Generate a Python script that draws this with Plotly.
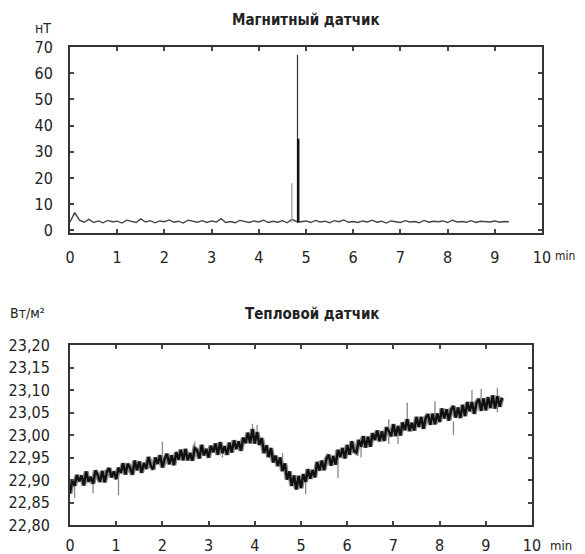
import numpy as np
import plotly.graph_objects as go

# --- magnetic sensor (nT), one sample every 0.1 min ---
mag_dt = 0.1
mag_base = [
    3.2, 6.8, 3.9, 3.1, 4.2, 3.0, 3.6, 2.9, 3.8, 3.3,
    3.5, 2.8, 3.9, 3.4, 3.0, 4.4, 3.2, 3.7, 2.9, 3.6,
    3.3, 4.0, 3.1, 3.5, 2.8, 3.9, 3.4, 3.1, 3.7, 3.0,
    3.6, 3.2, 4.5, 3.0, 3.4, 2.9, 3.8, 3.3, 3.0, 3.6,
    3.2, 3.9, 3.0, 3.5, 3.1, 3.7, 2.9, 4.2, 3.4, 3.3,
    3.6, 3.0, 3.8, 3.2, 3.5, 2.9, 3.7, 3.3, 4.0, 3.1,
    3.4, 3.0, 3.6, 3.2, 3.9, 3.1, 3.5, 2.8, 3.6, 3.3,
    3.0, 3.7, 3.2, 3.4, 2.9, 3.8, 3.1, 3.5, 3.3, 3.6,
    3.0, 3.9, 3.2, 3.4, 3.1, 3.7, 3.0, 3.5, 3.3, 3.2,
    3.6, 3.1, 3.4, 3.3,
]
# spikes around 4.7-4.8 min
mag_spike_t = [4.70, 4.82, 4.835]
mag_spike_lo = [3.0, 3.0, 3.0]
mag_spike_hi = [18.0, 67.0, 35.0]

# --- heat sensor (W/m2), one sample every 0.05 min ---
heat_dt = 0.05
heat_vals = [
    22.870, 22.901, 22.887, 22.911, 22.897, 22.910, 22.888, 22.919, 22.896, 22.907,
    22.892, 22.921, 22.911, 22.896, 22.920, 22.895, 22.919, 22.926, 22.906, 22.919,
    22.902, 22.927, 22.916, 22.937, 22.912, 22.936, 22.927, 22.912, 22.943, 22.922,
    22.941, 22.916, 22.938, 22.925, 22.951, 22.931, 22.924, 22.950, 22.936, 22.955,
    22.928, 22.948, 22.958, 22.935, 22.955, 22.933, 22.962, 22.945, 22.967, 22.944,
    22.969, 22.944, 22.960, 22.943, 22.970, 22.966, 22.948, 22.978, 22.955, 22.969,
    22.950, 22.976, 22.962, 22.981, 22.956, 22.984, 22.960, 22.975, 22.956, 22.983,
    22.961, 22.988, 22.969, 22.986, 22.965, 22.994, 22.982, 23.005, 22.982, 23.013,
    22.981, 23.006, 22.978, 22.993, 22.960, 22.977, 22.951, 22.971, 22.939, 22.954,
    22.931, 22.950, 22.920, 22.937, 22.901, 22.919, 22.887, 22.910, 22.879, 22.909,
    22.882, 22.913, 22.896, 22.924, 22.903, 22.922, 22.906, 22.940, 22.921, 22.943,
    22.922, 22.947, 22.956, 22.932, 22.953, 22.934, 22.967, 22.951, 22.971, 22.948,
    22.978, 22.956, 22.986, 22.964, 22.961, 22.989, 22.974, 22.997, 22.972, 22.996,
    22.974, 23.004, 22.989, 23.010, 22.986, 23.008, 22.987, 23.017, 23.009, 22.997,
    23.024, 22.998, 23.020, 22.999, 23.028, 23.011, 23.035, 23.009, 23.027, 23.010,
    23.040, 23.018, 23.040, 23.014, 23.038, 23.046, 23.023, 23.047, 23.024, 23.048,
    23.029, 23.059, 23.037, 23.057, 23.032, 23.056, 23.064, 23.039, 23.061, 23.038,
    23.067, 23.042, 23.073, 23.053, 23.073, 23.047, 23.072, 23.080, 23.054, 23.081,
    23.055, 23.084, 23.060, 23.088, 23.059, 23.086, 23.063, 23.083,
]
# grey outliers of the heat signal
heat_spike_t = [0.10, 0.50, 1.05, 2.00, 2.70, 3.30, 3.95, 4.05, 4.60, 5.10,
                5.80, 6.30, 6.90, 7.10, 7.30, 7.90, 8.30, 8.70, 8.90, 9.25]
heat_spike_lo = [22.860, 22.870, 22.866, 22.930, 22.950, 22.950, 22.980, 22.980, 22.930, 22.868,
                 22.905, 22.950, 22.980, 22.980, 23.030, 23.040, 23.000, 23.070, 23.070, 23.050]
heat_spike_hi = [22.890, 22.900, 22.920, 22.985, 22.985, 22.980, 23.025, 23.022, 22.960, 22.900,
                 22.940, 22.995, 23.035, 23.010, 23.072, 23.075, 23.030, 23.100, 23.102, 23.105]

x_ticks = list(range(0, 11))
mag_ticks = [0, 10, 20, 30, 40, 50, 60, 70]
heat_ticks = [22.80, 22.85, 22.90, 22.95, 23.00, 23.05, 23.10, 23.15, 23.20]
heat_ticktext = ["22,80", "22,85", "22,90", "22,95", "23,00", "23,05", "23,10", "23,15", "23,20"]

mag_t = np.arange(len(mag_base)) * mag_dt
heat_t = np.arange(len(heat_vals)) * heat_dt


def segments(t, lo, hi):
    xs, ys = [], []
    for a, b, c in zip(t, lo, hi):
        xs += [a, a, None]
        ys += [b, c, None]
    return xs, ys


FONT = "DejaVu Sans Condensed, Liberation Sans Narrow, sans-serif"

fig = go.Figure()

# top chart
fig.add_trace(go.Scatter(x=mag_t, y=mag_base, mode="lines",
                         line=dict(color="#444", width=1.4), xaxis="x", yaxis="y"))
sx, sy = segments(mag_spike_t[:1], mag_spike_lo[:1], mag_spike_hi[:1])
fig.add_trace(go.Scatter(x=sx, y=sy, mode="lines",
                         line=dict(color="#aaa", width=1.5), xaxis="x", yaxis="y"))
sx, sy = segments(mag_spike_t[1:2], mag_spike_lo[1:2], mag_spike_hi[1:2])
fig.add_trace(go.Scatter(x=sx, y=sy, mode="lines",
                         line=dict(color="#333", width=1.2), xaxis="x", yaxis="y"))
sx, sy = segments(mag_spike_t[2:], mag_spike_lo[2:], mag_spike_hi[2:])
fig.add_trace(go.Scatter(x=sx, y=sy, mode="lines",
                         line=dict(color="#111", width=2.5), xaxis="x", yaxis="y"))

# bottom chart
fig.add_trace(go.Scatter(x=heat_t, y=heat_vals, mode="lines",
                         line=dict(color="#8a8a8a", width=5), xaxis="x2", yaxis="y2"))
sx, sy = segments(heat_spike_t, heat_spike_lo, heat_spike_hi)
fig.add_trace(go.Scatter(x=sx, y=sy, mode="lines",
                         line=dict(color="#888", width=1.3), xaxis="x2", yaxis="y2"))
fig.add_trace(go.Scatter(x=heat_t, y=heat_vals, mode="lines",
                         line=dict(color="#111", width=2.4), xaxis="x2", yaxis="y2"))

# the page body adds an 8 px margin, so the figure is 8 px smaller
# and every pixel position below is taken relative to that offset
OFF = 8
W, H = 585 - OFF, 554 - OFF


def px(x):
    return (x - OFF) / W


def py(y):
    return 1 - (y - OFF) / H


axis_common = dict(showline=True, mirror="ticks", ticks="inside", ticklen=4,
                   linecolor="#333", linewidth=2, tickcolor="#444", tickwidth=2,
                   showgrid=False, zeroline=False, automargin=False,
                   tickfont=dict(family=FONT, size=16, color="#222"))

fig.update_layout(
    width=W, height=H,
    margin=dict(l=0, r=0, t=0, b=0),
    paper_bgcolor="white", plot_bgcolor="white",
    showlegend=False,
    xaxis=dict(axis_common, domain=[px(70), px(542)], range=[0, 10],
               tickvals=x_ticks, anchor="y", ticklabelstandoff=9),
    yaxis=dict(axis_common, domain=[py(233), py(47)], range=[-1, 70],
               tickvals=mag_ticks, anchor="x", ticklabelstandoff=12),
    xaxis2=dict(axis_common, domain=[px(70), px(532)], range=[0, 10],
                tickvals=x_ticks, anchor="y2", ticklabelstandoff=5),
    yaxis2=dict(axis_common, domain=[py(525), py(345)], range=[22.80, 23.20],
                tickvals=heat_ticks, ticktext=heat_ticktext, anchor="x2",
                ticklabelstandoff=15),
)


def label(text, x, y, size=15, bold=False, anchor="center"):
    fig.add_annotation(text=f"<b>{text}</b>" if bold else text,
                       x=px(x), y=py(y), xref="paper", yref="paper",
                       showarrow=False, xanchor=anchor, yanchor="middle",
                       font=dict(family=FONT, size=size, color="#222"))


label("Магнитный датчик", 306, 20, size=15, bold=True)
label("Тепловой датчик", 312, 314, size=15, bold=True)
label("нТ", 43, 28, size=14)
label("Вт/м²", 27, 313, size=14)
label("min", 553, 256, size=12, anchor="left")
label("min", 548, 545, size=13, anchor="left")

fig.write_html("out.html")
